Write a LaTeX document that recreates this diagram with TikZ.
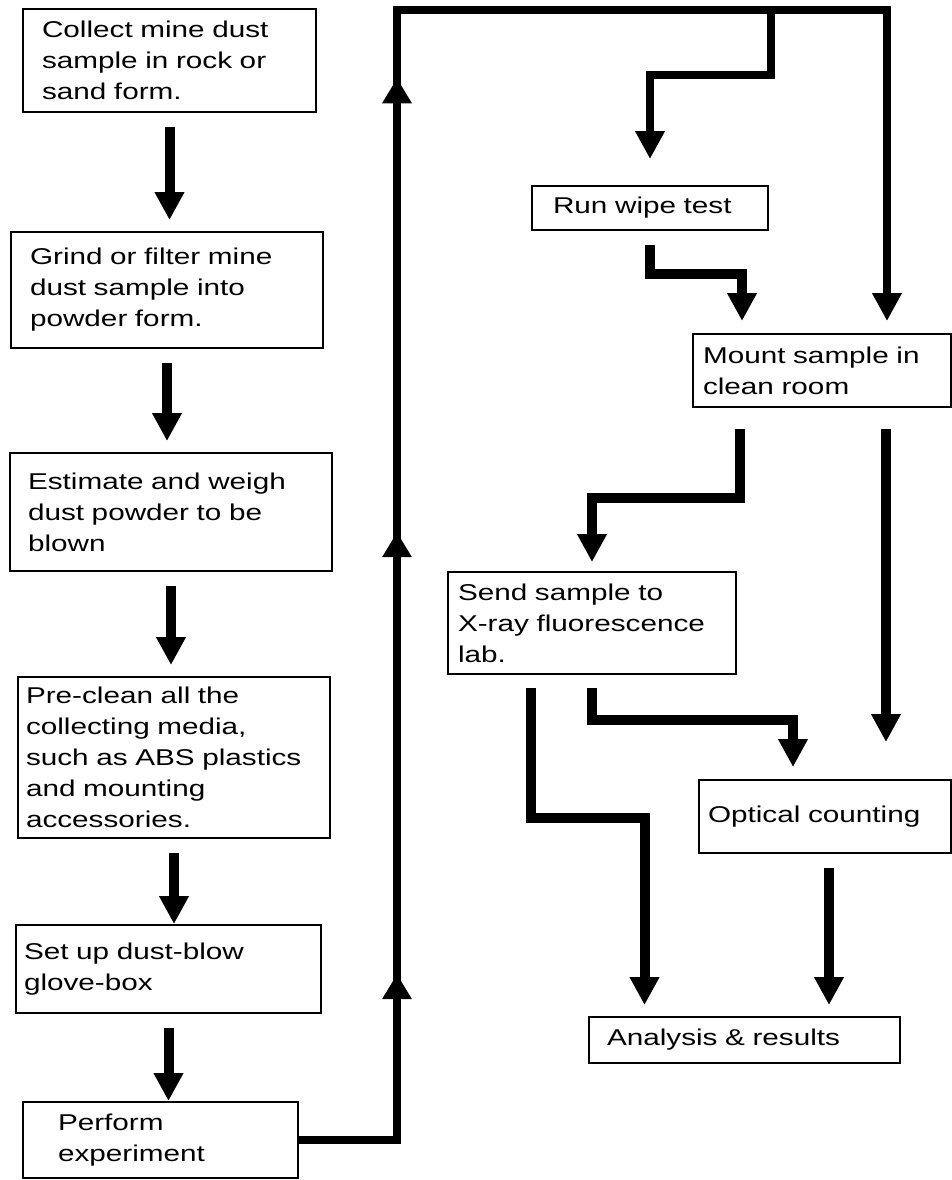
\documentclass[tikz,border=0pt]{standalone}
\usepackage{fontspec}
\newfontfamily\boxfont[FakeStretch=1.3]{Liberation Sans}
\usetikzlibrary{arrows.meta}
\usetikzlibrary{decorations.markings}

\begin{document}
\begin{tikzpicture}[x=0.02cm, y=-0.02cm,
    stepbox/.style={draw, line width=0.04cm, align=left, inner ysep=0pt,
        font=\boxfont\fontsize{13pt}{17.6pt}\selectfont},
    flow/.style={line width=0.2cm, -{Triangle[width=0.56cm,length=0.56cm]},
        shorten <=0.28cm, shorten >=0.22cm},
    uptip/.style={decoration={markings,
        mark=at position 5.28cm with {\arrow{Triangle[width=0.56cm,length=0.5cm]}},
        mark=at position 14.12cm with {\arrow{Triangle[width=0.56cm,length=0.5cm]}},
        mark=at position 23.2cm with {\arrow{Triangle[width=0.56cm,length=0.5cm]}}},
        postaction={decorate}}]
    \useasboundingbox (0,0) rectangle (952,1180);

    \node [stepbox, text width=5.10cm, minimum height=2.06cm, inner xsep=0.38cm] (collect) at (169.5,60.5)
        {Collect mine dust\\sample in rock or\\sand form.};
    \node [stepbox, text width=5.48cm, minimum height=2.32cm, inner xsep=0.38cm] (grind) at (167,290)
        {Grind or filter mine\\dust sample into\\powder form.};
    \node [stepbox, text width=5.72cm, minimum height=2.36cm, inner xsep=0.36cm] (estimate) at (171,512)
        {Estimate and weigh\\dust powder to be\\blown};
    \node [stepbox, text width=5.92cm, minimum height=3.22cm, inner xsep=0.16cm] (preclean) at (174,757.5)
        {Pre-clean all the\\collecting media,\\such as ABS plastics\\and mounting\\accessories.};
    \node [stepbox, text width=5.78cm, minimum height=1.76cm, inner xsep=0.16cm] (setup) at (168.5,969)
        {Set up dust-blow\\glove-box};
    \node [stepbox, text width=4.10cm, minimum height=1.52cm, inner xsep=0.70cm] (perform) at (160.5,1140)
        {Perform\\experiment};
    \node [stepbox, text width=3.88cm, minimum height=0.88cm, inner xsep=0.42cm] (wipe) at (650,208)
        {Run wipe test};
    \node [stepbox, text width=4.76cm, minimum height=1.46cm, inner xsep=0.20cm] (mount) at (822,370.5)
        {Mount sample in\\clean room};
    \node [stepbox, text width=5.36cm, minimum height=2.04cm, inner xsep=0.20cm] (send) at (592,623)
        {Send sample to\\X-ray fluorescence\\lab.};
    \node [stepbox, text width=4.68cm, minimum height=1.46cm, inner xsep=0.18cm] (optical) at (825,816.5)
        {Optical counting};
    \node [stepbox, text width=5.50cm, minimum height=0.92cm, inner xsep=0.36cm] (analysis) at (744.5,1040)
        {Analysis \& results};

    \coordinate (corner) at (397,10);
    \coordinate (split) at (771,10);

    \draw [flow] (collect.south) -- (collect.south |- grind.north);
    \draw [flow] (grind.south) -- (grind.south |- estimate.north);
    \draw [flow] (estimate.south) -- (estimate.south |- preclean.north);
    \draw [flow, shorten >=0pt] (preclean.south) -- (preclean.south |- setup.north);
    \draw [flow, shorten >=0pt] (setup.south) -- (setup.south |- perform.north);

    \draw [flow, line width=0.16cm, shorten <=0pt, shorten >=0.24cm, uptip]
        (perform.east) -| (corner) -| ([xshift=1.3cm]mount.north);
    \draw [flow, line width=0.16cm, shorten <=0pt, shorten >=0.52cm]
        (split) -- ++(0,65) -| (wipe.north);

    \draw [flow, shorten >=0.24cm] (wipe.south) -- ++(0,43) -| ([xshift=-1.6cm]mount.north);
    \draw [flow, shorten <=0.42cm, shorten >=0.18cm] ([xshift=-1.64cm]mount.south) -- ++(0,90) -| (send.north);
    \draw [flow, shorten <=0.42cm, shorten >=0.74cm] ([xshift=1.28cm]mount.south)
        -- ([xshift=1.28cm]mount.south |- optical.north);
    \draw [flow, shorten <=0.26cm] ([xshift=-1.22cm]send.south) -- ++(0,143) -| ([xshift=-2cm]analysis.north);
    \draw [flow, shorten <=0.26cm, shorten >=0.24cm] (send.south) -- ++(0,45) -| ([xshift=-0.64cm]optical.north);
    \draw [flow] ([xshift=0.08cm]optical.south) -- ([xshift=0.08cm]optical.south |- analysis.north);
\end{tikzpicture}
\end{document}
